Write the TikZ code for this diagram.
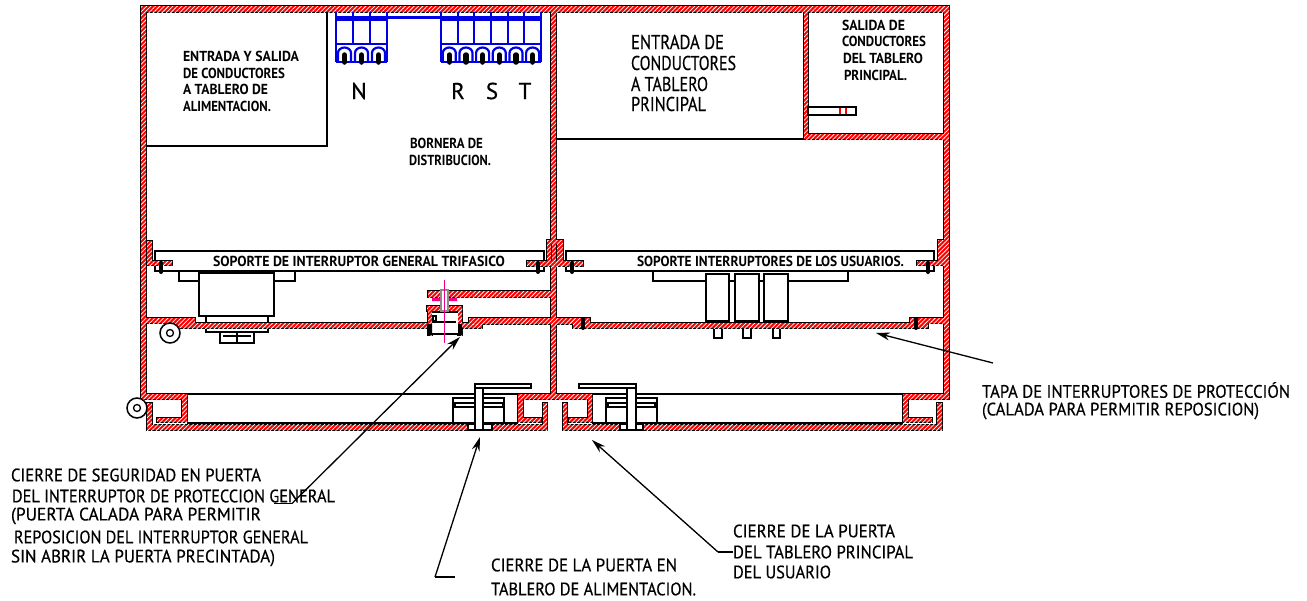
\documentclass[tikz,border=0pt]{standalone}
\usepackage{fontspec}
\setmainfont{PT Sans}
\newfontfamily\medf{PT Sans}[FakeBold=0.5]
\usetikzlibrary{patterns.meta,arrows.meta}
\tikzset{
 wallout/.style={draw=black,line width=1.9pt,fill=black},
 wallin/.style={preaction={fill=red},pattern={Lines[angle=45,distance=3.1pt,line width=.75pt]},pattern color=white},
 blk/.style={draw=black,line width=1.2pt},
 thk/.style={draw=black,line width=1.8pt},
 blu/.style={draw=blue!90!black,line width=1.8pt},
 lead/.style={draw=black,line width=1.3pt},
 arr/.style={draw=black,line width=1.3pt,-{Stealth[length=14pt,width=8pt]}},
 lbl/.style={anchor=west,inner sep=0pt,outer sep=0pt,text=black},
 bigl/.style={lbl,font=\fontsize{20}{20}\selectfont\medf},
 midl/.style={lbl,font=\fontsize{18}{18}\selectfont\medf},
 smal/.style={lbl,font=\fontsize{14.5}{14.5}\selectfont\bfseries},
 capl/.style={anchor=center,inner sep=0pt,font=\fontsize{23}{23}\selectfont\medf}
}
\newcommand{\fitw}[2]{\resizebox{#1pt}{\height}{#2}}
\def\walls{141/6/949/12, 141/6/146/398, 551/6/556/394, 944/6/949/398,
 804/12/808/137, 804/134/944/139,
 147/241/152/265, 147/261/172/265,
 547/240/563/266, 527/261/583/266,
 938/240/945/265, 917/261/944/265,
 146/318/195/323, 175/323/430/328, 462/323/482/328, 469/318/590/324, 573/323/928/328, 910/318/944/323,
 428/291/551/297,
 427/306/462/311, 428/306/432/335, 458/306/462/335,
 141/394/187/399, 182/394/187/422, 157/418/187/422,
 147/403/152/430, 147/424.5/468/430, 492/424.5/547/430,
 518/394/592/399, 518/394/523/422, 518/418/541/422, 543/403/547/430,
 563/403/567/430, 563/424.5/620/430, 643/424.5/942/430, 569/418/592/422, 588/394/592/422,
 903/394/949/399, 903/394/908/422, 903/418/932/422, 937/403/942/430}
\begin{document}
\begin{tikzpicture}[x=1pt,y=-1pt]
\useasboundingbox (0,0) rectangle (1307,600);
% interior thin lines behind walls
\draw[thk] (327,12) -- (327,146) -- (146,146);
\draw[thk] (556,139) -- (804,139);
\draw[blk] (187,394) -- (518,394) (592,394) -- (903,394);
\draw[blk] (187,423) -- (518,423) (592,423) -- (903,423);
% soportes
\draw[thk,fill=white] (155,251) rectangle (544,271);
\draw[thk,fill=white] (566,251) rectangle (934,271);
% left breaker
\draw[thk] (179,271) -- (179,281) -- (295,281) -- (295,271);
\draw[blk,fill=white] (199,273) rectangle (274,316);
\draw[blk] (206,316) -- (206,332) -- (268,332) -- (268,316);
\draw[blk] (220,332) rectangle (254,343);
\draw[blk] (237,332) -- (237,343) (223,336) -- (251,336);
% right breakers
\draw[thk] (653,271) -- (653,281) -- (848,281) -- (848,271);
\foreach \a/\b in {706/729,735/759,764/788}{\draw[blk,fill=white] (\a,274) rectangle (\b,321);}
\foreach \a/\b in {714/722,743/751,773/780}{\draw[blk] (\a,328) -- (\a,338) -- (\b,338) -- (\b,328);}
% latches
\foreach \o in {0,153}{
 \draw[blk,fill=white] (453+\o,398) rectangle (504+\o,423);
}
% wall mass
\foreach \a/\b/\c/\d in \walls {\path[wallout] (\a,\b) rectangle (\c,\d);}
\foreach \a/\b/\c/\d in \walls {\path[wallin] (\a,\b) rectangle (\c,\d);}
\draw[black,line width=.7pt] (551,244) -- (551,261) (556,244) -- (556,261);
% latch stems and handles
\draw[blk] (455,403) rectangle (503,407);
\draw[blk] (608,403) rectangle (655,407);
\draw[blk,fill=white] (475,384) rectangle (531,388);
\draw[blk,fill=white] (475,388) rectangle (483,430);
\draw[blk,fill=white] (579,384) rectangle (636,388);
\draw[blk,fill=white] (627,388) rectangle (636,430);
\draw[blk] (468,424.5) rectangle (475,430) (483,424.5) rectangle (492,430);
\draw[blk] (620,424.5) rectangle (627,430) (636,424.5) rectangle (643,430);
% lock
\fill[white] (432,311) rectangle (458,334);
\draw[blk] (432,312) -- (458,312) (432,322) -- (456,322) (432,334) -- (458,334);
\draw[blk] (433,316) rectangle (436,321);
\fill[black] (427,324) rectangle (432,335) (458,324) rectangle (462,335);
\fill[black!45] (440,289) rectangle (449,312);
\fill[white] (442,291) rectangle (447,310);
\fill[magenta] (432,298) rectangle (440,301) (449,298) rectangle (457,301);
\draw[magenta,line width=1.1pt] (444.5,280) -- (444.5,343);
% circles
\draw[line width=1.5pt,fill=white] (170,333) circle (10);
\draw[line width=1.3pt,fill=white] (170,333) circle (3.5);
\draw[line width=1.5pt,fill=white] (137,408) circle (10);
\draw[line width=1.3pt,fill=white] (137,408) circle (3.5);
% bolts
\foreach \x/\y in {161/263,538/263,572/263,928/263,583/319,916/319}{
 \draw[black,line width=4pt,line cap=round] (\x,\y) -- (\x,\y+9);
 }
% slot
\draw[thk,fill=white] (808,107) rectangle (856,115);
\draw[red,line width=1.2pt] (840,108) -- (840,114) (846,108) -- (846,114);
% blue terminals
\draw[blu,line width=2.6pt] (336,17.5) -- (541,17.5);
\foreach \x in {336,353,370,387}{\draw[blu] (\x,12) -- (\x,44);}
\foreach \x in {441,457.7,474.3,491,507.7,524.3,541}{\draw[blu] (\x,12) -- (\x,44);}
\draw[blu] (336,20) -- (387,20) (441,20) -- (541,20);
\draw[blu] (336,44) -- (387,44) (441,44) -- (541,44);
\draw[blu] (336,44) -- (336,62) (387,44) -- (387,62) (441,44) -- (441,62) (541,44) -- (541,62);
\draw[blu,line width=2.2pt] (336,62) -- (387,62) (441,62) -- (541,62);
\foreach \x in {344.5,361.5,378.5,449.3,466,482.6,499.3,516,532.6}{
 \draw[blu,line width=2.2pt] (\x-6.5,62) -- (\x-6.5,53) arc (180:360:6.5 and 5.5) -- (\x+6.5,62);
 \draw[black,line width=5.5pt,line cap=round] (\x,55) -- (\x,62);
}
% texts
\node[bigl] (n1) at (631,42) {\fitw{93}{ENTRADA DE}};
\node[bigl] (n2) at (631,63) {\fitw{105}{CONDUCTORES}};
\node[bigl] (n3) at (631,84) {\fitw{77}{A TABLERO}};
\node[bigl] (n4) at (631,104) {\fitw{75}{PRINCIPAL}};
\node[smal] (a1) at (183,56) {\fitw{116}{ENTRADA Y SALIDA}};
\node[smal] (a2) at (183,73) {\fitw{102}{DE CONDUCTORES}};
\node[smal] (a3) at (183,89) {\fitw{85}{A TABLERO DE}};
\node[smal] (a4) at (183,106) {\fitw{88}{ALIMENTACION.}};
\node[smal] (b1) at (410,143) {\fitw{73}{BORNERA DE}};
\node[smal] (b2) at (409,160) {\fitw{82}{DISTRIBUCION.}};
\node[smal] (c1) at (842,25) {\fitw{63}{SALIDA DE}};
\node[smal] (c2) at (842,41) {\fitw{84}{CONDUCTORES}};
\node[smal] (c3) at (843,58) {\fitw{80}{DEL TABLERO}};
\node[smal] (c4) at (844,75) {\fitw{63}{PRINCIPAL.}};
\node[smal] (s1) at (213,261) {\fitw{292}{SOPORTE DE INTERRUPTOR GENERAL TRIFASICO}};
\node[smal] (s2) at (637,261) {\fitw{267}{SOPORTE INTERRUPTORES DE LOS USUARIOS.}};
\node[capl] (cn) at (359,91) {N};
\node[capl] (cr) at (458,91) {R};
\node[capl] (cs) at (492,91) {S};
\node[capl] (ct) at (525,91) {T};
\node[midl] (t1) at (11,475) {\fitw{250}{CIERRE DE SEGURIDAD EN PUERTA}};
\node[midl] (t2) at (12,496) {\fitw{323}{DEL INTERRUPTOR DE PROTECCION GENERAL}};
\node[midl] (t3) at (11,516) {\fitw{250}{(PUERTA CALADA PARA PERMITIR}};
\node[midl] (t4) at (14,537) {\fitw{294}{REPOSICION DEL INTERRUPTOR GENERAL}};
\node[midl] (t5) at (11,558) {\fitw{264}{SIN ABRIR LA PUERTA PRECINTADA)}};
\node[midl] (u1) at (491,565) {\fitw{186}{CIERRE DE LA PUERTA EN}};
\node[midl] (u2) at (491,589) {\fitw{205}{TABLERO DE ALIMENTACION.}};
\node[midl] (v1) at (733,531) {\fitw{162}{CIERRE DE LA PUERTA}};
\node[midl] (v2) at (733,552) {\fitw{180}{DEL TABLERO PRINCIPAL}};
\node[midl] (v3) at (733,572) {\fitw{98}{DEL USUARIO}};
\node[midl] (w1) at (982,390) {\fitw{308}{TAPA DE INTERRUPTORES DE PROTECCIÓN}};
\node[midl] (w2) at (982,411) {\fitw{277}{(CALADA PARA PERMITIR REPOSICION)}};
% leaders
\coordinate (e1) at (274,503.5); \coordinate (k1) at (292,503.5); \coordinate (h1) at (460,337);
\coordinate (e2) at (455,577); \coordinate (k2) at (435,577); \coordinate (h2) at (480,437);
\coordinate (e3) at (733,552); \coordinate (k3) at (718,552); \coordinate (h3) at (592,440);
\coordinate (e4) at (993,363); \coordinate (h4) at (876,333);
\draw[lead] (e1) -- (k1); \draw[arr] (k1) -- (h1);
\draw[lead] (e2) -- (k2); \draw[arr] (k2) -- (h2);
\draw[lead] (e3) -- (k3); \draw[arr] (k3) -- (h3);
\draw[arr] (e4) -- (h4);
\end{tikzpicture}
\end{document}
